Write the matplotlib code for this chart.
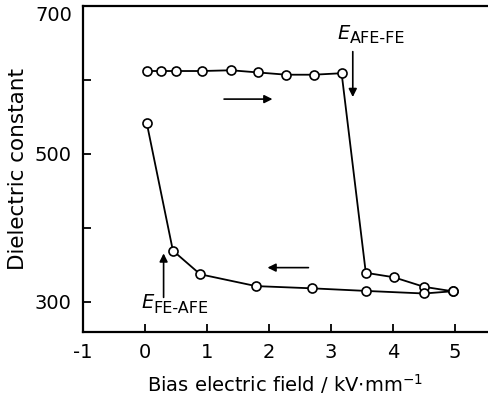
import matplotlib
matplotlib.use("Agg")
import matplotlib.pyplot as plt

# Increasing field sweep
up_field = [0.03, 0.26, 0.50, 0.92, 1.39, 1.83, 2.28, 2.72, 3.17, 3.56, 4.01, 4.50, 4.96]
up_eps = [612, 612, 612, 612, 613, 610, 607, 607, 609, 339, 333, 320, 314]
# Decreasing field sweep
down_field = [4.96, 4.50, 3.56, 2.69, 1.79, 0.89, 0.45, 0.03]
down_eps = [314, 311, 314.5, 318, 321, 337, 369, 541]

xticks = [-1, 0, 1, 2, 3, 4, 5]
yticks = [300, 500, 700]
yminor = [400, 600]

plt.rcParams['font.family'] = ['DejaVu Sans']
fig = plt.figure(figsize=(4.88, 3.98), dpi=100)
ax = fig.add_axes([0.170, 0.166, 0.830, 0.819])

ax.plot(up_field, up_eps, '-o', color='black', lw=1.3, ms=6.5,
        mfc='white', mec='black', mew=1.2, clip_on=False, zorder=3)
ax.plot(down_field, down_eps, '-o', color='black', lw=1.3, ms=6.5,
        mfc='white', mec='black', mew=1.2, clip_on=False, zorder=3)

ax.set_xlim(-1, 5.53)
ax.set_ylim(259, 700)
ax.set_xticks(xticks)
ax.set_xticklabels(['-1', '0', '1', '2', '3', '4', '5'])
ax.set_yticks(yticks)
ax.set_yticks(yminor, minor=True)
ax.tick_params(axis='both', which='both', direction='in', length=6, width=1.3,
               labelsize=14, pad=8)
ax.tick_params(axis='y', which='minor', labelleft=False)
ax.spines['right'].set_visible(False)
for s in ['left', 'top', 'bottom']:
    ax.spines[s].set_linewidth(1.6)

# top tick label sits just below the frame edge
ax.get_yticklabels()[-1].set_verticalalignment('top')

ax.set_xlabel('Bias electric field / kV$\\cdot$mm$^{-1}$', fontsize=14, labelpad=7)
ax.set_ylabel('Dielectric constant', fontsize=15.5, labelpad=5)

# Annotations
ax.annotate('', xy=(3.35, 573), xytext=(3.35, 642),
            arrowprops=dict(arrowstyle='-|>', color='black', lw=1.2, mutation_scale=12))
ax.text(3.1, 650, '$E$', fontsize=14, ha='left', va='bottom')
ax.text(3.3, 646, 'AFE-FE', fontsize=11.5, ha='left', va='bottom')

ax.annotate('', xy=(2.1, 574), xytext=(1.23, 574),
            arrowprops=dict(arrowstyle='-|>', color='black', lw=1.2, mutation_scale=12))
ax.annotate('', xy=(1.93, 346), xytext=(2.68, 346),
            arrowprops=dict(arrowstyle='-|>', color='black', lw=1.2, mutation_scale=12))

ax.annotate('', xy=(0.30, 369), xytext=(0.30, 302),
            arrowprops=dict(arrowstyle='-|>', color='black', lw=1.2, mutation_scale=12))
ax.text(-0.07, 286, '$E$', fontsize=14, ha='left', va='bottom')
ax.text(0.14, 281, 'FE-AFE', fontsize=11.5, ha='left', va='bottom')

fig.savefig('out.png', dpi=100)
